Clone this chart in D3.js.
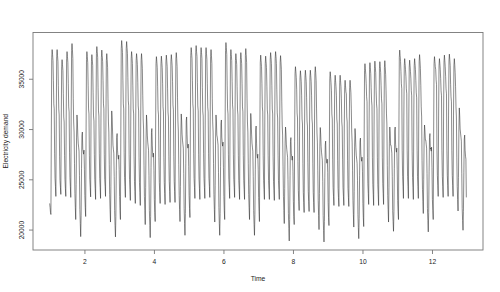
<!DOCTYPE html>
<html>
<head>
<meta charset="utf-8">
<script src="https://cdn.jsdelivr.net/npm/d3@7"></script>
<style>
  body { margin: 0; background: #fff; }
  text { font-family: "Liberation Sans", Arial, sans-serif; fill: #222; }
</style>
</head>
<body>
<script>
var hours = [0, 2, 4, 6, 8, 10, 12, 14, 16, 18, 20, 22];

var week1 = [
  [22600,22200,21700,21500,29500,37100,37900,37400,36800,34800,32500,32000],
  [27600,25100,24300,23300,31200,37200,37900,37300,36700,34300,32000,31400],
  [27300,24900,24200,23500,30800,36200,36900,36400,35800,33500,31200,30700],
  [27400,25000,24100,23300,31100,37000,37700,37200,36600,34500,32200,31700],
  [27700,25200,24300,23200,31300,37800,38500,37900,37000,33000,30700,29700],
  [26600,23600,22200,21000,24500,29200,31400,30700,29400,28600,28200,27800],
  [25400,22000,20600,19300,21400,26100,29300,29700,28000,27800,27500,27900]
];
var week2 = [
  [26000,23400,22200,21300,29600,36900,37700,37200,36600,34300,32000,31500],
  [27400,25000,24200,23250,31000,36700,37400,36900,36300,33600,31300,30800],
  [27500,25000,24100,23000,31200,37500,38200,37700,37100,34100,31800,31300],
  [27600,25100,24200,23100,31100,37100,37850,37300,36700,34800,32500,32000],
  [27500,25000,24300,23300,30900,36800,37500,36900,36100,33000,30700,29700],
  [26500,23500,22000,20750,24300,29400,31800,31100,29800,28400,28000,27600],
  [25300,21900,20400,19270,21300,25900,29150,29550,27900,27300,27000,27400]
];
var week3 = [
  [26000,23300,21900,21000,29700,38000,38800,38300,37600,34800,32500,32000],
  [27700,25200,24300,23200,31300,38000,38700,38100,37500,35100,32800,32300],
  [27500,25000,24000,22900,30900,37000,37700,37200,36500,34300,32000,31500],
  [27300,24800,23800,22600,30800,36800,37500,37000,36400,34600,32300,31800],
  [27200,24700,23700,22400,30700,36800,37500,36900,36000,33300,31000,30000],
  [26400,23300,21900,20500,24200,29000,31400,30700,29400,28700,28300,27900],
  [25400,21900,20400,19200,21300,26200,29650,30050,28400,27500,27200,27600]
];
var week4 = [
  [25900,23000,21700,20800,29300,36500,37200,36700,36100,34200,31900,31400],
  [27200,24700,23700,22600,30700,36500,37250,36700,36100,34500,32200,31700],
  [27200,24700,23600,22500,30600,36700,37350,36800,36200,34000,31700,31200],
  [27300,24800,23800,22700,30800,36700,37400,36900,36300,34700,32400,31900],
  [27300,24800,23800,22700,30800,36900,37600,37000,36200,33100,30800,29800],
  [26500,23400,22000,20800,24300,29300,31500,30800,29500,28900,28500,28100],
  [25600,22100,20600,19430,21600,26600,30800,31200,29500,28400,28100,28500]
];
var week5 = [
  [26300,23400,22100,21200,29700,37300,38100,37600,37000,34800,32500,32000],
  [27600,25100,24200,23100,31100,37600,38300,37700,37200,34600,32300,31800],
  [27500,25000,24100,23000,31000,37400,38100,37600,37000,34100,31800,31300],
  [27600,25100,24200,23100,31100,37400,38100,37500,36900,34500,32200,31700],
  [27600,25100,24300,23200,31200,37200,37900,37300,36500,33000,30700,29700],
  [26600,23500,22000,20750,24400,29100,31400,30700,29400,29200,28800,28400],
  [25700,22200,20600,19430,21600,26300,30500,30900,29200,28600,28300,28700]
];
var week6 = [
  [26200,23300,21900,21000,29600,37800,38600,38100,37400,34300,32000,31500],
  [27500,25000,24200,23100,31000,37200,37900,37400,36800,34700,32400,31900],
  [27500,25000,24200,23200,31100,36800,37500,37000,36400,34200,31900,31400],
  [27400,24900,24000,23000,31000,36900,37600,37100,36500,34500,32200,31700],
  [27400,24900,24000,23000,31000,37300,38000,37400,36600,33000,30700,29700],
  [26600,23500,22200,21000,24500,29300,31550,30800,29500,28600,28200,27800],
  [25300,21900,20500,19430,21500,26000,29900,30300,28600,27400,27100,27500]
];
var week7 = [
  [26000,23200,21800,20800,29400,36600,37350,36800,36200,34500,32200,31700],
  [27400,24900,24000,23000,30900,36500,37250,36700,36100,34200,31900,31400],
  [27400,24900,24000,23000,31000,36900,37600,37100,36500,34300,32000,31500],
  [27300,24800,23900,22900,30900,37000,37700,37200,36500,33900,31600,31100],
  [27400,24900,24000,23000,30900,36600,37300,36700,35900,32700,30400,29400],
  [26300,23300,21900,20600,24100,28600,30200,29600,28500,28000,27600,27200],
  [25000,21600,20100,18870,21000,25400,28750,29150,27600,27200,26900,27300]
];
var week8 = [
  [25800,22800,21300,20500,28800,35500,36200,35700,35100,33900,31600,31100],
  [26800,23900,22800,21900,30000,35100,35800,35300,34700,33300,31000,30500],
  [26600,23700,22700,21700,29900,35150,35850,35300,34700,33100,30800,30300],
  [26700,23800,22800,21800,30000,35150,35850,35300,34700,33300,31000,30500],
  [26600,23700,22700,21700,29900,35500,36200,35600,34800,32000,29700,28700],
  [25900,22900,21400,20000,23600,28300,30150,29500,28300,27700,27300,26900],
  [24800,21400,19900,18770,20800,25200,28400,28800,27200,26900,26600,27000]
];
var week9 = [
  [25700,22700,21200,20400,28600,35000,35700,35200,34600,33800,31500,31000],
  [27000,24200,23300,22400,30100,34650,35350,34800,34200,33300,31000,30500],
  [26900,24100,23200,22300,30000,34650,35350,34800,34200,33000,30700,30200],
  [27000,24200,23300,22400,30100,34150,34850,34300,33700,33500,31200,30700],
  [26900,24100,23200,22300,30000,34150,34850,34300,33600,32000,29700,28700],
  [25900,22900,21500,20250,23800,28300,30050,29400,28200,27400,27000,26600],
  [24900,21500,20200,19100,21100,25400,28700,29100,27500,27100,26800,27200]
];
var week10 = [
  [25800,22600,21200,20300,28700,35800,36500,36000,35400,34500,33200,32700],
  [27200,24600,23600,22500,30400,35900,36600,36100,35500,34100,32800,32300],
  [27200,24500,23500,22400,30300,36000,36750,36200,35600,33800,32500,32000],
  [27200,24500,23500,22400,30300,36000,36700,36200,35600,34300,33000,32500],
  [27200,24600,23600,22500,30400,36100,36800,36200,35400,33800,31500,30500],
  [26400,23400,22000,20750,24200,28600,30200,29600,28400,28400,28000,27600],
  [25300,21900,20800,19830,21800,26100,29800,30200,28500,28000,27700,28100]
];
var week11 = [
  [26000,22900,21800,21000,29400,37100,37850,37300,36700,35700,34500,34000],
  [27900,25300,24300,23100,31200,36300,37000,36500,35900,35200,34000,33500],
  [27900,25300,24300,23100,31200,36150,36850,36300,35700,35000,33800,33300],
  [27800,25200,24200,23000,31100,36300,37000,36500,35900,34800,33600,33100],
  [27900,25300,24300,23100,31200,36700,37400,36800,36000,34300,32200,31200],
  [26900,24000,22800,21600,25000,29000,30400,29800,28900,28900,28500,28100],
  [25600,22100,20900,19770,21700,25800,29150,29550,28000,28100,27800,28200]
];
var week12 = [
  [26200,23000,21900,21000,29500,36500,37200,36700,36200,35900,34900,34400],
  [27900,25400,24400,23300,31300,36300,37000,36500,35900,35000,33800,33300],
  [27900,25300,24300,23200,31200,36650,37350,36800,36200,35200,34000,33500],
  [27900,25400,24400,23300,31300,36750,37450,36900,36300,34400,33200,32700],
  [27900,25400,24400,23300,31300,36300,37000,36400,35600,34200,32200,31200],
  [27200,24300,23000,21850,25200,29800,32100,31300,30000,29600,29200,28800],
  [25600,22100,20900,19930,21800,25700,29000,29400,27900,27300,27000,23200]
];

var xTicks = [2, 4, 6, 8, 10, 12];
var yTicks = [20000, 25000, 30000, 35000];

var weeks = [week1, week2, week3, week4, week5, week6,
             week7, week8, week9, week10, week11, week12];

// flatten into a time series, time measured in weeks starting at 1
var demand = [];
weeks.forEach(function(w, wi) {
  w.forEach(function(day, di) {
    day.forEach(function(v, hi) {
      demand.push({ time: 1 + wi + (di * 24 + hours[hi]) / 168, value: v });
    });
  });
});

var width = 500, height = 292;
var plotLeft = 33, plotRight = 483, plotTop = 32.5, plotBottom = 250;

// R style 4% padding on both axes
var tExt = d3.extent(demand, function(d) { return d.time; });
var tPad = (tExt[1] - tExt[0]) * 0.04;
var vExt = d3.extent(demand, function(d) { return d.value; });
var vPad = (vExt[1] - vExt[0]) * 0.04;

var x = d3.scaleLinear()
  .domain([tExt[0] - tPad, tExt[1] + tPad])
  .range([plotLeft, plotRight]);
var y = d3.scaleLinear()
  .domain([vExt[0] - vPad, vExt[1] + vPad])
  .range([plotBottom, plotTop]);

var svg = d3.select("body").append("svg")
  .attr("width", width)
  .attr("height", height);

// the series
var line = d3.line()
  .x(function(d) { return x(d.time); })
  .y(function(d) { return y(d.value); });

svg.append("path")
  .datum(demand)
  .attr("fill", "none")
  .attr("stroke", "#2a2a2a")
  .attr("stroke-width", 0.55)
  .attr("stroke-linejoin", "round")
  .attr("d", line);

// box
svg.append("rect")
  .attr("x", plotLeft)
  .attr("y", plotTop)
  .attr("width", plotRight - plotLeft)
  .attr("height", plotBottom - plotTop)
  .attr("fill", "none")
  .attr("stroke", "#777")
  .attr("stroke-width", 0.9);

// x axis
var gx = svg.append("g")
  .attr("transform", "translate(0," + plotBottom + ")")
  .call(d3.axisBottom(x).tickValues(xTicks).tickSize(4).tickPadding(5)
    .tickFormat(d3.format("d")));
gx.select(".domain").remove();
gx.selectAll("line").attr("stroke", "#777").attr("stroke-width", 0.9);
gx.selectAll("text").style("font-size", "6.7px").attr("fill", "#222");

// y axis, labels turned like R does
var gy = svg.append("g")
  .attr("transform", "translate(" + plotLeft + ",0)")
  .call(d3.axisLeft(y).tickValues(yTicks).tickSize(4).tickFormat(d3.format("d")));
gy.select(".domain").remove();
gy.selectAll("line").attr("stroke", "#777").attr("stroke-width", 0.9);
gy.selectAll("text")
  .style("font-size", "6.7px")
  .attr("fill", "#222")
  .attr("transform", "rotate(-90)")
  .attr("x", 0)
  .attr("y", -9.5)
  .attr("dy", 0)
  .style("text-anchor", "middle");

// axis titles
svg.append("text")
  .attr("x", (plotLeft + plotRight) / 2)
  .attr("y", 281)
  .attr("text-anchor", "middle")
  .style("font-size", "6.7px")
  .text("Time");

svg.append("text")
  .attr("transform", "translate(7.5," + (plotTop + plotBottom) / 2 + ") rotate(-90)")
  .attr("text-anchor", "middle")
  .style("font-size", "6.7px")
  .text("Electricity demand");
</script>
</body>
</html>
